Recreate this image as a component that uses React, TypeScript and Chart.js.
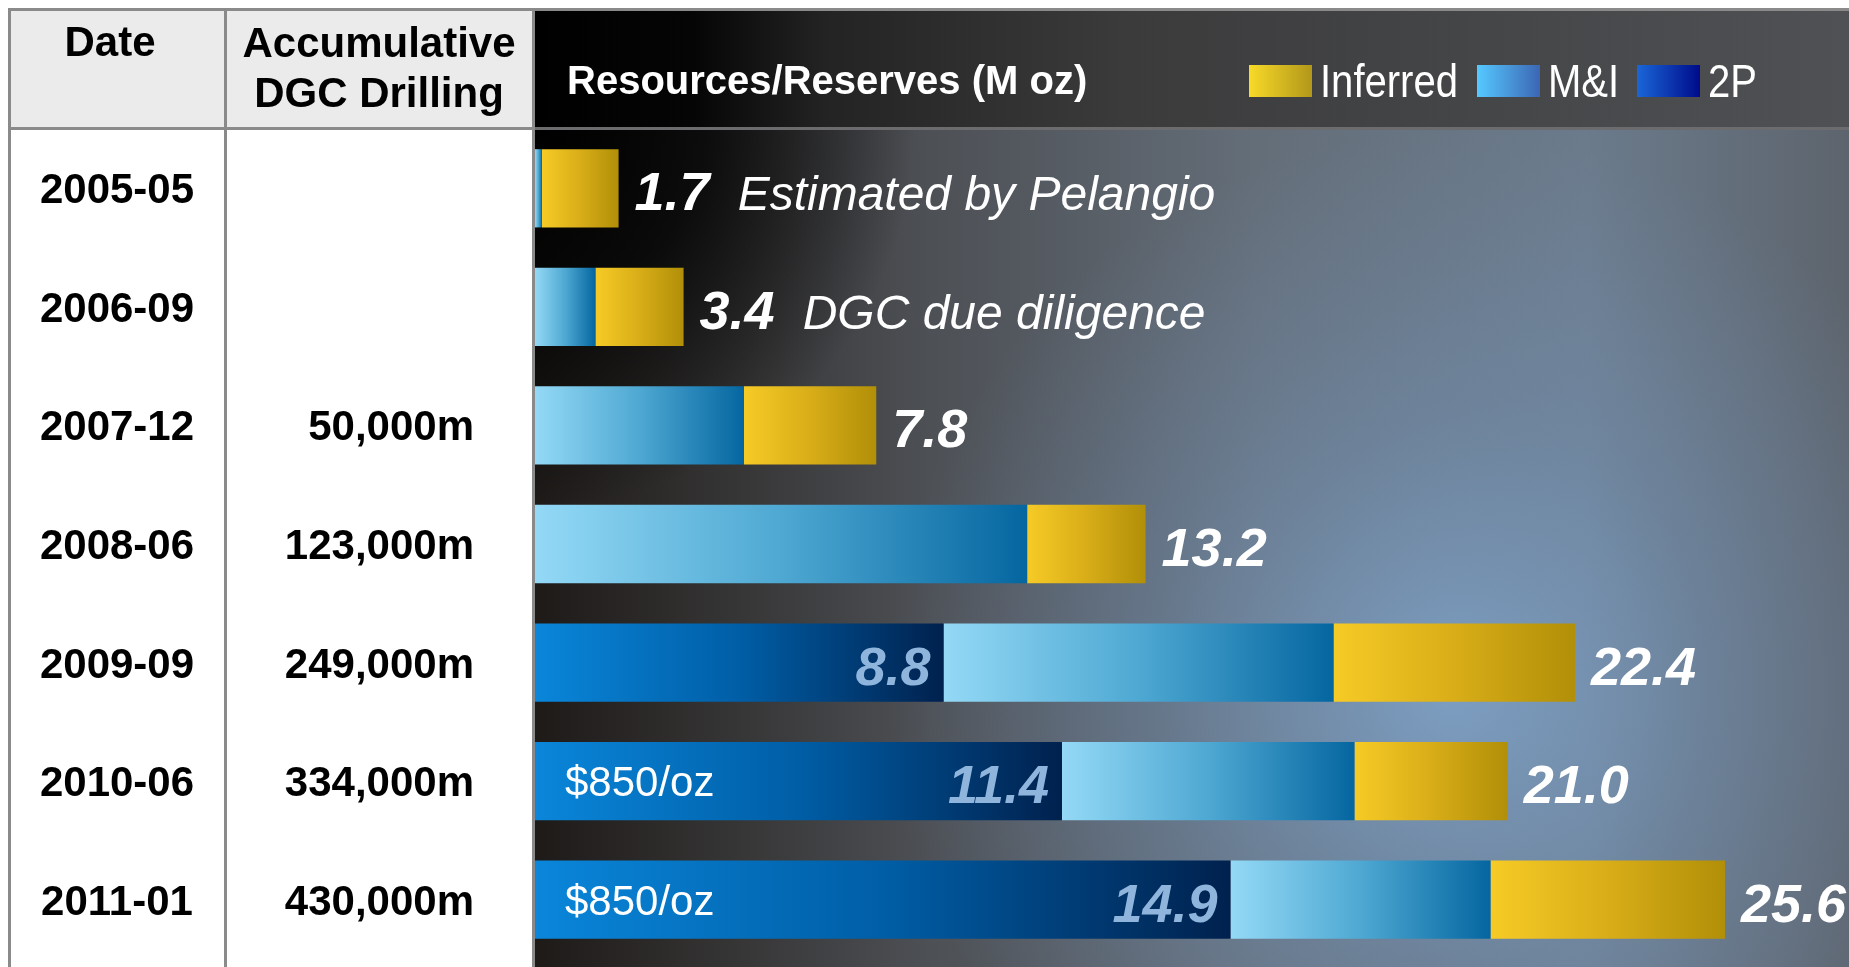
import { useEffect, useRef } from "react";
import { Chart, registerables } from "chart.js";

Chart.register(...registerables);

const W = 1849;
const H = 967;

const dates = ["2005-05", "2006-09", "2007-12", "2008-06", "2009-09", "2010-06", "2011-01"];
const drilling = ["", "", "50,000m", "123,000m", "249,000m", "334,000m", "430,000m"];
const twoP = [0, 0, 0, 0, 8.8, 11.35, 14.98];
const mAndI = [0.15, 1.3, 4.5, 10.6, 8.4, 6.3, 5.6];
const inferred = [1.65, 1.9, 2.85, 2.55, 5.2, 3.3, 5.05];
const totalLabels = ["1.7", "3.4", "7.8", "13.2", "22.4", "21.0", "25.6"];
const twoPLabels = ["", "", "", "", "8.8", "11.4", "14.9"];
const notes = ["Estimated by Pelangio", "DGC due diligence", "", "", "", "", ""];
const priceNotes = ["", "", "", "", "", "$850/oz", "$850/oz"];
const headerDate = "Date";
const headerDrill = ["Accumulative", "DGC Drilling"];
const chartTitle = "Resources/Reserves (M oz)";
const legendItems = ["Inferred", "M&I", "2P"];
const xMax = 28.3;

const FONT = '"Liberation Sans", Arial, sans-serif';

const barStops: string[][] = [
  ["#0a86da", "#005ea6", "#00214e"],
  ["#94d9f6", "#4ea8d2", "#0566a0"],
  ["#f6cb26", "#d8ad18", "#b18f08"],
];
const legendStops: string[][] = [
  ["#f8da28", "#b2971a"],
  ["#55c9ff", "#3c66b4"],
  ["#1a66d8", "#000b8a"],
];

const seriesData = [twoP, mAndI, inferred];

function segmentColor(dsIndex: number) {
  return (c: any) => {
    const chart = c.chart;
    const xs = chart.scales && chart.scales.x;
    const stops = barStops[dsIndex];
    if (!xs || !chart.chartArea || c.type !== "data") return stops[1];
    const i = c.dataIndex;
    let start = 0;
    for (let d = 0; d < dsIndex; d++) start += seriesData[d][i];
    const end = start + seriesData[dsIndex][i];
    const x0 = xs.getPixelForValue(start);
    const x1 = xs.getPixelForValue(end);
    if (x1 - x0 < 1) return stops[1];
    const g = chart.ctx.createLinearGradient(x0, 0, x1, 0);
    g.addColorStop(0, stops[0]);
    g.addColorStop(0.5, stops[1]);
    g.addColorStop(1, stops[2]);
    return g;
  };
}

const PX = 535;
const HEAD_B = 128;

const backdropPlugin = {
  id: "backdrop",
  beforeDraw(chart: any) {
    const ctx = chart.ctx as CanvasRenderingContext2D;
    ctx.save();
    ctx.fillStyle = "#ffffff";
    ctx.fillRect(0, 0, W, H);
    // table header cells
    ctx.fillStyle = "#ebebeb";
    ctx.fillRect(10, 10, PX - 10, HEAD_B - 10);

    // dark panel header band
    let g = ctx.createLinearGradient(PX, 0, W, 0);
    g.addColorStop(0, "#000000");
    g.addColorStop(0.12, "#050505");
    g.addColorStop(0.22, "#232323");
    g.addColorStop(0.45, "#3b3b3c");
    g.addColorStop(1, "#4f5154");
    ctx.fillStyle = g;
    ctx.fillRect(PX, 10, W - PX, HEAD_B - 10);

    // dark panel body
    g = ctx.createLinearGradient(PX, 0, W, 0);
    g.addColorStop(0, "#1d1a18");
    g.addColorStop(0.1, "#2e2c2b");
    g.addColorStop(0.3, "#4d5055");
    g.addColorStop(0.55, "#646e79");
    g.addColorStop(0.8, "#6b7b8c");
    g.addColorStop(1, "#5d646d");
    ctx.fillStyle = g;
    ctx.fillRect(PX, HEAD_B + 2, W - PX, H - HEAD_B - 2);

    ctx.save();
    ctx.beginPath();
    ctx.rect(PX, HEAD_B + 2, W - PX, H - HEAD_B - 2);
    ctx.clip();
    let r = ctx.createRadialGradient(1450, 690, 0, 1450, 690, 560);
    r.addColorStop(0, "rgba(132,172,215,0.75)");
    r.addColorStop(0.5, "rgba(120,155,195,0.35)");
    r.addColorStop(1, "rgba(120,150,190,0)");
    ctx.fillStyle = r;
    ctx.fillRect(PX, HEAD_B, W - PX, H - HEAD_B);
    r = ctx.createRadialGradient(PX, HEAD_B, 0, PX, HEAD_B, 380);
    r.addColorStop(0, "rgba(0,0,0,1)");
    r.addColorStop(0.45, "rgba(0,0,0,0.75)");
    r.addColorStop(1, "rgba(0,0,0,0)");
    ctx.fillStyle = r;
    ctx.fillRect(PX, HEAD_B, W - PX, H - HEAD_B);
    ctx.restore();

    // borders
    ctx.fillStyle = "#8a8a8a";
    ctx.fillRect(8, 8, W - 8, 3);
    ctx.fillRect(8, 8, 3, H - 8);
    ctx.fillRect(224, 8, 3, H - 8);
    ctx.fillRect(532, 8, 3, H - 8);
    ctx.fillRect(8, HEAD_B - 1, PX - 8, 3);
    ctx.fillStyle = "#6c6c6e";
    ctx.fillRect(PX, HEAD_B - 1, W - PX, 3);

    // header texts
    ctx.fillStyle = "#000";
    ctx.font = `bold 42px ${FONT}`;
    ctx.textAlign = "center";
    ctx.textBaseline = "alphabetic";
    ctx.fillText(headerDate, 110, 56);
    ctx.fillText(headerDrill[0], 379, 57);
    ctx.fillText(headerDrill[1], 379, 107);

    ctx.fillStyle = "#fff";
    ctx.textAlign = "left";
    ctx.font = `bold 40px ${FONT}`;
    ctx.fillText(chartTitle, 567, 94);

    // legend
    const boxes = [1249, 1477, 1637];
    ctx.font = `46px ${FONT}`;
    legendItems.forEach((t, k) => {
      const bx = boxes[k];
      const lg = ctx.createLinearGradient(bx, 0, bx + 63, 0);
      lg.addColorStop(0, legendStops[k][0]);
      lg.addColorStop(1, legendStops[k][1]);
      ctx.fillStyle = lg;
      ctx.fillRect(bx, 65, 63, 32);
      ctx.save();
      ctx.translate(bx + 71, 97);
      ctx.scale(0.87, 1);
      ctx.fillStyle = "#fff";
      ctx.fillText(t, 0, 0);
      ctx.restore();
    });
    ctx.restore();
  },
  afterDatasetsDraw(chart: any) {
    const ctx = chart.ctx as CanvasRenderingContext2D;
    const xs = chart.scales.x;
    const ys = chart.scales.y;
    ctx.save();
    ctx.textBaseline = "alphabetic";
    dates.forEach((d, i) => {
      const y = ys.getPixelForValue(i);
      // table cells
      ctx.fillStyle = "#000";
      ctx.font = `bold 42px ${FONT}`;
      ctx.textAlign = "center";
      ctx.fillText(d, 117, y + 15);
      ctx.textAlign = "right";
      ctx.fillText(drilling[i], 474, y + 15);

      const p2 = twoP[i];
      const total = twoP[i] + mAndI[i] + inferred[i];
      const xEnd = xs.getPixelForValue(total);
      ctx.textAlign = "left";
      ctx.font = `italic bold 54px ${FONT}`;
      ctx.fillStyle = "#fff";
      ctx.fillText(totalLabels[i], xEnd + 16, y + 22);
      const w = ctx.measureText(totalLabels[i]).width;
      if (notes[i]) {
        ctx.font = `italic 48px ${FONT}`;
        ctx.fillText(notes[i], xEnd + 16 + w + 28, y + 22);
      }
      if (twoPLabels[i]) {
        ctx.font = `italic bold 54px ${FONT}`;
        ctx.fillStyle = "#8fb5dd";
        ctx.textAlign = "right";
        ctx.fillText(twoPLabels[i], xs.getPixelForValue(p2) - 13, y + 22);
      }
      if (priceNotes[i]) {
        ctx.font = `42px ${FONT}`;
        ctx.fillStyle = "#fff";
        ctx.textAlign = "left";
        ctx.fillText(priceNotes[i], 565, y + 15);
      }
    });
    ctx.restore();
  },
};

export default function App() {
  const ref = useRef<HTMLCanvasElement | null>(null);
  useEffect(() => {
    if (!ref.current) return;
    const chart = new Chart(ref.current, {
      type: "bar",
      data: {
        labels: dates,
        datasets: [
          { label: "2P", data: twoP, backgroundColor: segmentColor(0) },
          { label: "M&I", data: mAndI, backgroundColor: segmentColor(1) },
          { label: "Inferred", data: inferred, backgroundColor: segmentColor(2) },
        ],
      },
      options: {
        indexAxis: "y",
        responsive: false,
        animation: false,
        events: [],
        layout: { padding: { left: PX, top: 129, right: 0, bottom: 8 } },
        datasets: { bar: { barPercentage: 0.66, categoryPercentage: 1, borderWidth: 0 } },
        scales: {
          x: { display: false, stacked: true, min: 0, max: xMax },
          y: { display: false, stacked: true },
        },
        plugins: { legend: { display: false }, tooltip: { enabled: false }, title: { display: false } },
      },
      plugins: [backdropPlugin],
    } as any);
    return () => chart.destroy();
  }, []);
  return (
    <div style={{ position: "fixed", left: 0, top: 0, width: W, height: H }}>
      <canvas ref={ref} width={W} height={H} style={{ display: "block", width: W, height: H }} />
    </div>
  );
}
